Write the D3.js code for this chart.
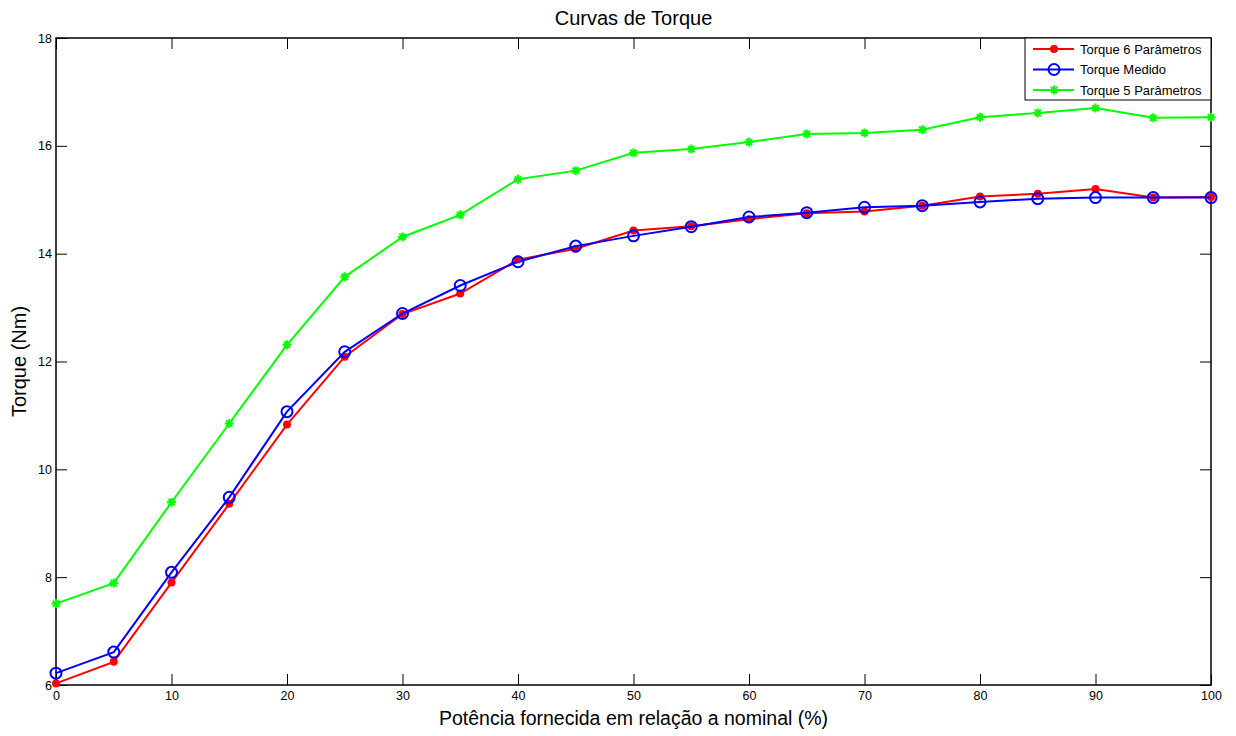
<!DOCTYPE html>
<html lang="pt">
<head>
  <meta charset="UTF-8">
  <title>Curvas de Torque</title>
  <style>
    html, body { margin: 0; background: #fff; }
    text { font-family: Arial, 'Liberation Sans', sans-serif; fill: #000; }
    .line { fill: none; stroke-width: 2px; }
  </style>
</head>
<body>
<svg width="1236" height="736"></svg>
<script src="https://d3js.org/d3.v7.min.js"></script>
<script>

// potência (%) 
const potencia = [0, 5, 10, 15, 20, 25, 30, 35, 40, 45, 50, 55, 60, 65, 70, 75, 80, 85, 90, 95, 100];

const torque6 = [6.03, 6.43, 7.90, 9.36, 10.83, 12.09, 12.88, 13.26, 13.89, 14.09, 14.43, 14.51, 14.64, 14.75, 14.78, 14.89, 15.06, 15.11, 15.20, 15.04, 15.05];
const torqueMedido = [6.22, 6.61, 8.09, 9.48, 11.07, 12.18, 12.89, 13.41, 13.85, 14.14, 14.33, 14.50, 14.68, 14.76, 14.86, 14.89, 14.96, 15.02, 15.04, 15.04, 15.04];
const torque5 = [7.51, 7.89, 9.39, 10.85, 12.31, 13.57, 14.31, 14.72, 15.38, 15.54, 15.87, 15.94, 16.07, 16.22, 16.24, 16.30, 16.53, 16.61, 16.70, 16.52, 16.53];

const xTicks = [0, 10, 20, 30, 40, 50, 60, 70, 80, 90, 100];
const yTicks = [6, 8, 10, 12, 14, 16, 18];

const seriesNames = ["Torque 6 Parâmetros", "Torque Medido", "Torque 5 Parâmetros"];
const seriesColors = ["#ff0000", "#0000ff", "#00ff00"];
const seriesMarkers = ["dot", "circle", "star"];

const svg = d3.select("svg"),
    margin = {top: 38, right: 25, bottom: 51, left: 56},
    width = +svg.attr("width") - margin.left - margin.right,
    height = +svg.attr("height") - margin.top - margin.bottom;

const x = d3.scaleLinear().domain([0, 100]).range([0, width]);
const y = d3.scaleLinear().domain([6, 18]).range([height, 0]);

const g = svg.append("g")
    .attr("transform", "translate(" + margin.left + "," + margin.top + ")");

// eixos com ticks para dentro, nos quatro lados
function styleAxis(sel) {
  sel.select(".domain").remove();
  sel.selectAll("line").attr("stroke", "#000");
  sel.selectAll("text").attr("font-size", "12.5px").attr("font-family", "Arial, 'Liberation Sans', sans-serif");
}

g.append("g")
    .attr("transform", "translate(0," + height + ")")
    .call(d3.axisBottom(x).tickValues(xTicks).tickSizeInner(-11).tickSizeOuter(0).tickPadding(6))
    .call(styleAxis);

g.append("g")
    .call(d3.axisTop(x).tickValues(xTicks).tickSizeInner(-11).tickSizeOuter(0).tickFormat(""))
    .call(styleAxis);

g.append("g")
    .call(d3.axisLeft(y).tickValues(yTicks).tickSizeInner(-11).tickSizeOuter(0).tickPadding(4))
    .call(styleAxis);

g.append("g")
    .attr("transform", "translate(" + width + ",0)")
    .call(d3.axisRight(y).tickValues(yTicks).tickSizeInner(-11).tickSizeOuter(0).tickFormat(""))
    .call(styleAxis);

g.append("rect")
    .attr("width", width)
    .attr("height", height)
    .attr("fill", "none")
    .attr("stroke", "#000")
    .attr("stroke-width", 1.5);

function drawMarker(sel, kind, color) {
  if (kind === "dot") {
    sel.append("circle").attr("r", 4).attr("fill", color);
  } else if (kind === "circle") {
    sel.append("circle").attr("r", 5.5).attr("fill", "none").attr("stroke", color).attr("stroke-width", 2);
  } else {
    const s = 4.5;
    sel.append("path")
        .attr("d", "M" + (-s) + ",0H" + s + "M0," + (-s) + "V" + s +
                   "M" + (-s * 0.7) + "," + (-s * 0.7) + "L" + (s * 0.7) + "," + (s * 0.7) +
                   "M" + (-s * 0.7) + "," + (s * 0.7) + "L" + (s * 0.7) + "," + (-s * 0.7))
        .attr("stroke", color)
        .attr("stroke-width", 2);
  }
}

const line = d3.line()
    .x(function (d) { return x(d.p); })
    .y(function (d) { return y(d.v); });

[torque6, torqueMedido, torque5].forEach(function (vals, i) {
  const data = potencia.map(function (p, k) { return {p: p, v: vals[k]}; });
  g.append("path")
      .datum(data)
      .attr("class", "line")
      .attr("stroke", seriesColors[i])
      .attr("d", line);
  g.selectAll(".pt" + i)
      .data(data)
      .enter().append("g")
      .attr("class", "pt" + i)
      .attr("transform", function (d) { return "translate(" + x(d.p) + "," + y(d.v) + ")"; })
      .each(function () { drawMarker(d3.select(this), seriesMarkers[i], seriesColors[i]); });
});

// legenda
const legend = g.append("g")
    .attr("transform", "translate(" + (width - 186) + ",0)");

legend.append("rect")
    .attr("width", 186)
    .attr("height", 62)
    .attr("fill", "#fff")
    .attr("stroke", "#000");

seriesNames.forEach(function (name, i) {
  const row = legend.append("g").attr("transform", "translate(0," + (11 + i * 20.5) + ")");
  row.append("line")
      .attr("x1", 8).attr("x2", 49)
      .attr("stroke", seriesColors[i])
      .attr("stroke-width", 2);
  drawMarker(row.append("g").attr("transform", "translate(29,0)"), seriesMarkers[i], seriesColors[i]);
  row.append("text")
      .attr("x", 55)
      .attr("dy", "0.35em")
      .attr("font-size", "13px")
      .text(name);
});

// títulos
svg.append("text")
    .attr("x", margin.left + width / 2)
    .attr("y", 25)
    .attr("text-anchor", "middle")
    .attr("font-size", "20px")
    .text("Curvas de Torque");

svg.append("text")
    .attr("x", margin.left + width / 2)
    .attr("y", 725)
    .attr("text-anchor", "middle")
    .attr("font-size", "19.5px")
    .text("Potência fornecida em relação a nominal (%)");

svg.append("text")
    .attr("transform", "translate(26," + (margin.top + height / 2) + ") rotate(-90)")
    .attr("text-anchor", "middle")
    .attr("font-size", "20px")
    .text("Torque (Nm)");

</script>
</body>
</html>
